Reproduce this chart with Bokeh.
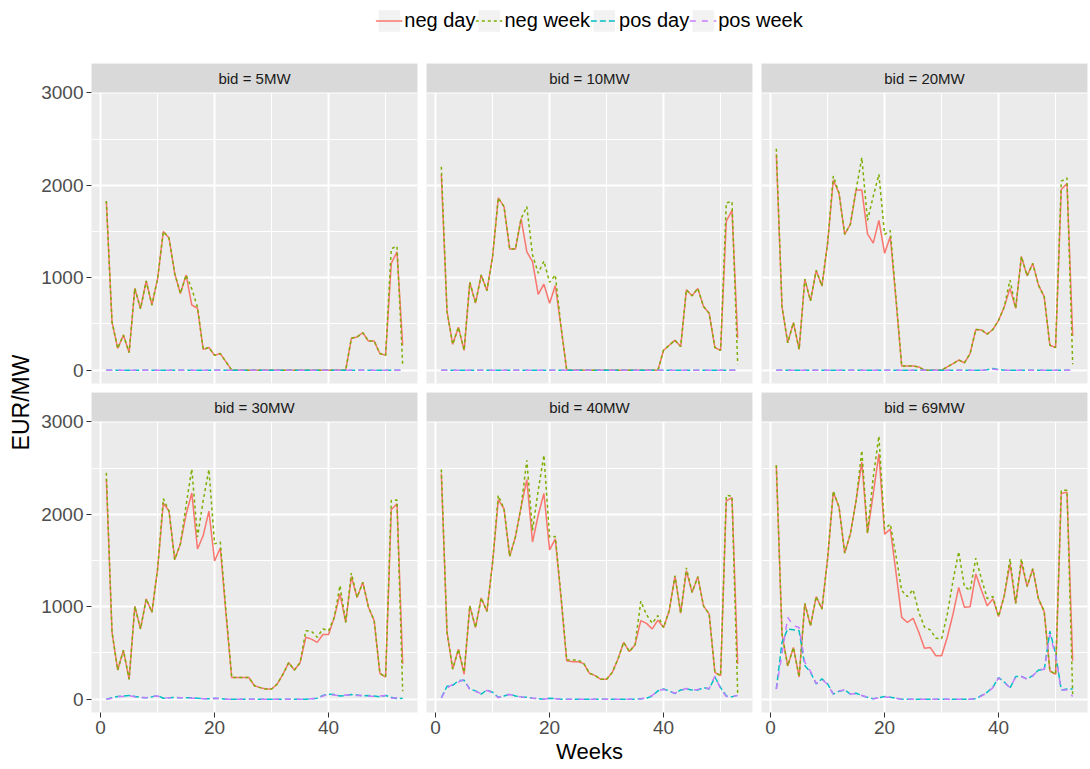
from math import pi
from bokeh.plotting import figure
from bokeh.layouts import column, row
from bokeh.models import (Range1d, FixedTicker, BoxAnnotation, Label, Legend,
                          LegendItem, ColumnDataSource)
from bokeh.embed import file_html
from bokeh.resources import INLINE

# ---------------- data ----------------
weeks = list(range(1, 54))
bids = ["5MW", "10MW", "20MW", "30MW", "40MW", "69MW"]
series_names = ["neg day", "neg week", "pos day", "pos week"]
x_ticks = [0, 20, 40]
x_minor = [10, 30, 50]
y_ticks = [0, 1000, 2000, 3000]
y_minor = [500, 1500, 2500]

neg_day_5 = [1830, 520, 235, 380, 190, 885, 665, 965, 705, 990,
             1500, 1430, 1045, 830, 1030, 705, 670, 225, 245, 160,
             180, 90, 0, 0, 0, 0, 0, 0, 0, 0,
             0, 0, 0, 0, 0, 0, 0, 0, 0, 0,
             0, 0, 0, 345, 360, 405, 315, 315, 180, 160,
             1155, 1280, 270]
neg_week_5 = [1830, 520, 235, 380, 190, 885, 665, 965, 705, 990,
              1500, 1430, 1045, 830, 1030, 880, 680, 225, 245, 160,
              180, 90, 0, 0, 0, 0, 0, 0, 0, 0,
              0, 0, 0, 0, 0, 0, 0, 0, 0, 0,
              0, 0, 0, 345, 360, 405, 315, 315, 180, 160,
              1315, 1340, 55]
pos_day_5 = [0, 0, 0, 0, 0, 0, 0, 0, 0, 0,
             0, 0, 0, 0, 0, 0, 0, 0, 0, 0,
             0, 0, 0, 0, 0, 0, 0, 0, 0, 0,
             0, 0, 0, 0, 0, 0, 0, 0, 0, 0,
             0, 0, 0, 0, 0, 0, 0, 0, 0, 0,
             0, 0, 0]
pos_week_5 = [0, 0, 0, 0, 0, 0, 0, 0, 0, 0,
              0, 0, 0, 0, 0, 0, 0, 0, 0, 0,
              0, 0, 0, 0, 0, 0, 0, 0, 0, 0,
              0, 0, 0, 0, 0, 0, 0, 0, 0, 0,
              0, 0, 0, 0, 0, 0, 0, 0, 0, 0,
              0, 0, 0]

neg_day_10 = [2115, 635, 280, 465, 215, 950, 725, 1030, 860, 1230,
              1865, 1770, 1310, 1310, 1640, 1280, 1175, 820, 930, 725,
              915, 470, 0, 0, 0, 0, 0, 0, 0, 0,
              0, 0, 0, 0, 0, 0, 0, 0, 0, 215,
              270, 325, 255, 870, 805, 885, 690, 615, 245, 215,
              1610, 1730, 345]
neg_week_10 = [2200, 635, 280, 465, 215, 950, 725, 1030, 860, 1230,
               1865, 1770, 1310, 1310, 1640, 1770, 1250, 1050, 1180, 950,
               1030, 470, 0, 0, 0, 0, 0, 0, 0, 0,
               0, 0, 0, 0, 0, 0, 0, 0, 0, 215,
               270, 325, 255, 870, 805, 885, 690, 615, 245, 215,
               1810, 1825, 65]
pos_day_10 = [0, 0, 0, 0, 0, 0, 0, 0, 0, 0,
              0, 0, 0, 0, 0, 0, 0, 0, 0, 0,
              0, 0, 0, 0, 0, 0, 0, 0, 0, 0,
              0, 0, 0, 0, 0, 0, 0, 0, 0, 0,
              0, 0, 0, 0, 0, 0, 0, 0, 0, 0,
              0, 0, 0]
pos_week_10 = [0, 0, 0, 0, 0, 0, 0, 0, 0, 0,
               0, 0, 0, 0, 0, 0, 0, 0, 0, 0,
               0, 0, 0, 0, 0, 0, 0, 0, 0, 0,
               0, 0, 0, 0, 0, 0, 0, 0, 0, 0,
               0, 0, 0, 0, 0, 0, 0, 0, 0, 0,
               0, 0, 0]

neg_day_20 = [2335, 685, 295, 515, 225, 985, 750, 1080, 910, 1375,
              2055, 1915, 1470, 1580, 1950, 1950, 1475, 1375, 1620, 1265,
              1445, 760, 45, 45, 45, 35, 0, 0, 0, 0,
              35, 70, 110, 80, 180, 440, 435, 390, 440, 540,
              685, 885, 670, 1230, 1020, 1155, 920, 795, 270, 245,
              1955, 2020, 370]
neg_week_20 = [2395, 685, 295, 515, 225, 985, 750, 1080, 910, 1375,
               2100, 1915, 1470, 1580, 1950, 2300, 1620, 1880, 2120, 1470,
               1510, 780, 45, 45, 45, 35, 0, 0, 0, 0,
               35, 70, 110, 80, 180, 440, 435, 390, 440, 540,
               685, 975, 670, 1230, 1020, 1155, 920, 795, 270, 245,
               2045, 2080, 65]
pos_day_20 = [0, 0, 0, 0, 0, 0, 0, 0, 0, 0,
              0, 0, 0, 0, 0, 0, 0, 0, 0, 0,
              0, 0, 0, 0, 0, 0, 0, 0, 0, 0,
              0, 0, 0, 0, 0, 0, 0, 5, 18, 8,
              0, 0, 0, 0, 0, 0, 0, 0, 0, 0,
              0, 0, 0]
pos_week_20 = [0, 0, 0, 0, 0, 0, 0, 0, 0, 0,
               0, 0, 0, 0, 0, 0, 0, 0, 0, 0,
               0, 0, 0, 0, 0, 0, 0, 0, 0, 0,
               0, 0, 0, 0, 0, 0, 0, 3, 10, 5,
               0, 0, 0, 0, 0, 0, 0, 0, 0, 0,
               0, 0, 0]

neg_day_30 = [2385, 725, 315, 530, 215, 1005, 760, 1085, 940, 1410,
              2120, 2035, 1510, 1680, 2000, 2230, 1625, 1770, 2035, 1495,
              1635, 920, 235, 235, 235, 235, 145, 125, 110, 110,
              165, 270, 395, 315, 395, 670, 650, 615, 700, 700,
              885, 1140, 830, 1325, 1100, 1265, 995, 850, 280, 240,
              2050, 2115, 380]
neg_week_30 = [2450, 725, 315, 530, 215, 1005, 760, 1085, 940, 1410,
               2170, 2035, 1510, 1680, 2100, 2490, 1755, 2150, 2485, 1680,
               1700, 950, 235, 235, 235, 235, 145, 125, 110, 110,
               165, 270, 395, 315, 395, 740, 735, 670, 760, 740,
               885, 1230, 830, 1365, 1100, 1265, 995, 850, 280, 240,
               2150, 2155, 85]
pos_day_30 = [0, 15, 30, 35, 40, 30, 20, 15, 25, 40,
              10, 15, 20, 15, 15, 15, 10, 5, 5, 10,
              5, 0, 0, 0, 0, 0, 0, 0, 0, 0,
              0, 0, 0, 0, 0, 0, 5, 10, 40, 55,
              50, 35, 40, 50, 45, 35, 40, 35, 25, 40,
              20, 5, 10]
pos_week_30 = [0, 10, 30, 30, 40, 25, 20, 15, 30, 35,
               10, 15, 15, 15, 15, 10, 10, 5, 5, 10,
               5, 0, 0, 0, 0, 0, 0, 0, 0, 0,
               0, 0, 0, 0, 0, 0, 5, 10, 35, 55,
               45, 35, 45, 45, 40, 40, 35, 30, 35, 40,
               10, 15, 0]

neg_day_40 = [2440, 725, 325, 540, 270, 1010, 775, 1095, 950, 1480,
              2160, 2060, 1545, 1755, 2080, 2375, 1700, 1990, 2225, 1615,
              1735, 1100, 415, 405, 405, 385, 280, 255, 215, 215,
              290, 435, 615, 515, 590, 850, 820, 760, 855, 775,
              960, 1335, 930, 1390, 1155, 1325, 1010, 920, 290, 255,
              2145, 2180, 380]
neg_week_40 = [2485, 725, 325, 540, 290, 1010, 775, 1095, 950, 1480,
               2205, 2060, 1545, 1755, 2080, 2585, 1825, 2260, 2640, 1755,
               1760, 1120, 425, 425, 425, 385, 280, 255, 215, 215,
               290, 435, 615, 515, 590, 1060, 915, 820, 905, 775,
               960, 1335, 930, 1420, 1155, 1325, 1010, 920, 290, 255,
               2205, 2195, 60]
pos_day_40 = [15, 140, 150, 200, 205, 110, 90, 55, 100, 75,
              20, 35, 55, 35, 25, 20, 10, 5, 0, 10,
              5, 0, 0, 0, 0, 0, 0, 0, 0, 0,
              0, 0, 0, 0, 0, 5, 10, 35, 90, 110,
              90, 60, 100, 110, 100, 100, 125, 110, 240, 125,
              35, 25, 45]
pos_week_40 = [15, 120, 160, 185, 215, 100, 85, 60, 95, 70,
               15, 40, 50, 35, 25, 15, 10, 5, 0, 10,
               5, 0, 0, 0, 0, 0, 0, 0, 0, 0,
               0, 0, 0, 0, 0, 5, 15, 40, 95, 105,
               85, 65, 95, 115, 95, 105, 120, 115, 250, 110,
               30, 30, 40]

neg_day_69 = [2530, 705, 360, 560, 240, 1035, 795, 1110, 975, 1520,
              2240, 2080, 1580, 1790, 2150, 2565, 1795, 2220, 2655, 1785,
              1840, 1370, 885, 830, 875, 725, 550, 560, 470, 470,
              670, 920, 1210, 995, 1000, 1355, 1175, 1010, 1085, 895,
              1120, 1465, 1035, 1480, 1220, 1410, 1085, 950, 305, 270,
              2225, 2240, 415]
neg_week_69 = [2530, 705, 360, 560, 240, 1035, 795, 1110, 975, 1520,
               2250, 2080, 1580, 1790, 2150, 2690, 1795, 2400, 2845, 1840,
               1895, 1550, 1175, 1110, 1185, 940, 780, 750, 660, 655,
               920, 1280, 1595, 1220, 1175, 1525, 1300, 1090, 1110, 895,
               1120, 1520, 1035, 1520, 1220, 1410, 1085, 950, 305, 270,
               2260, 2260, 55]
pos_day_69 = [110, 615, 760, 750, 740, 365, 290, 165, 220, 165,
              55, 85, 100, 55, 65, 40, 20, 5, 15, 30,
              20, 10, 0, 0, 0, 0, 0, 0, 0, 0,
              0, 0, 0, 0, 0, 5, 40, 75, 130, 235,
              185, 120, 245, 245, 220, 255, 315, 315, 735, 490,
              100, 110, 110]
pos_week_69 = [110, 490, 885, 795, 775, 400, 300, 170, 215, 160,
               55, 90, 100, 55, 60, 40, 20, 5, 15, 25,
               20, 10, 0, 0, 0, 0, 0, 0, 0, 0,
               0, 0, 0, 0, 0, 5, 35, 70, 125, 230,
               180, 125, 240, 245, 215, 250, 320, 320, 700, 470,
               100, 100, 30]

panel_data = [
    [neg_day_5, neg_week_5, pos_day_5, pos_week_5],
    [neg_day_10, neg_week_10, pos_day_10, pos_week_10],
    [neg_day_20, neg_week_20, pos_day_20, pos_week_20],
    [neg_day_30, neg_week_30, pos_day_30, pos_week_30],
    [neg_day_40, neg_week_40, pos_day_40, pos_week_40],
    [neg_day_69, neg_week_69, pos_day_69, pos_week_69],
]

# ---------------- style ----------------
COLORS = ["#F8766D", "#7CAE00", "#00BFC4", "#C77CFF"]
DASHES = ["solid", "3 3", "6 3", "6 6"]
LW = 1.5
FONT = "Liberation Sans"

FRAME_W = 326
PANEL_H = 291
STRIP_H = 29
FRAME_H = PANEL_H + STRIP_H
ROW_GAP = 9
X0, X1 = -1.6, 55.6
Y0, Y1 = -144, 3004
YTOP = Y1 + (Y1 - Y0) * STRIP_H / PANEL_H
LEGEND_H = 63
YLAB_W = 36
LEFT_BORDER = 55
TOTAL_W = YLAB_W + LEFT_BORDER + 3 * FRAME_W + 4 + 5 + 4 + 5 + 2


def make_panel(idx):
    r, c = divmod(idx, 3)
    p = figure(
        frame_width=FRAME_W, frame_height=FRAME_H,
        x_range=Range1d(X0, X1), y_range=Range1d(Y0, YTOP),
        x_axis_location="below" if r == 1 else None,
        y_axis_location="left" if c == 0 else None,
        output_backend="svg", toolbar_location=None,
        min_border_top=0,
        min_border_bottom=ROW_GAP if r == 0 else 0,
        min_border_left=LEFT_BORDER if c == 0 else 5,
        min_border_right=4 if c < 2 else 2,
        background_fill_color="#EBEBEB", border_fill_color="white",
        outline_line_color=None,
    )
    p.xgrid.ticker = FixedTicker(ticks=x_ticks, minor_ticks=x_minor)
    p.ygrid.ticker = FixedTicker(ticks=y_ticks, minor_ticks=y_minor)
    p.grid.grid_line_color = "white"
    p.grid.grid_line_width = 2
    p.grid.minor_grid_line_color = "white"
    p.grid.minor_grid_line_width = 1

    for ax in list(p.xaxis) + list(p.yaxis):
        ax.axis_line_color = None
        ax.major_tick_line_color = "#333333"
        ax.major_tick_in = 0
        ax.major_tick_out = 5
        ax.minor_tick_line_color = None
        ax.major_label_text_font = FONT
        ax.major_label_text_font_size = "19px"
        ax.major_label_text_color = "#4D4D4D"
        ax.major_label_standoff = 3
    for ax in p.xaxis:
        ax.ticker = FixedTicker(ticks=x_ticks)
    for ax in p.yaxis:
        ax.ticker = FixedTicker(ticks=y_ticks)

    if idx == 4:
        ax = p.xaxis[0]
        ax.axis_label = "Weeks"
        ax.axis_label_text_font = FONT
        ax.axis_label_text_font_size = "22px"
        ax.axis_label_text_font_style = "normal"
        ax.axis_label_text_color = "black"
        ax.axis_label_standoff = 2

    for vals, col, dash in zip(panel_data[idx], COLORS, DASHES):
        src = ColumnDataSource(dict(week=weeks, v=vals))
        p.line("week", "v", source=src, line_color=col, line_dash=dash,
               line_width=LW)

    # facet strip
    p.add_layout(BoxAnnotation(bottom=Y1, fill_color="#D9D9D9", fill_alpha=1,
                               line_color=None, level="annotation"))
    p.add_layout(Label(x=(X0 + X1) / 2, y=(Y1 + YTOP) / 2,
                       text="bid = " + bids[idx], text_align="center",
                       text_baseline="middle", text_font=FONT,
                       text_font_size="15px", text_color="#1A1A1A"))
    return p


panels = [make_panel(i) for i in range(6)]

# ---------------- legend ----------------
LEG_CENTER = YLAB_W + LEFT_BORDER + FRAME_W + 9 + FRAME_W / 2
leg_left = int(2 * LEG_CENTER - TOTAL_W)
lp = figure(width=TOTAL_W, height=LEGEND_H, x_range=Range1d(-2, -1),
            y_range=Range1d(0, 1), x_axis_location=None, y_axis_location=None,
            output_backend="svg", toolbar_location=None,
            min_border_left=leg_left, min_border_right=0, min_border_top=0,
            min_border_bottom=0, outline_line_color=None)
lp.grid.visible = False
items = []
for name, col, dash, vals in zip(series_names, COLORS, DASHES, panel_data[5]):
    src = ColumnDataSource(dict(week=weeks, v=vals))
    # drawn outside the visible range: only their legend glyphs show
    bg = lp.quad(left="week", right="week", top="v", bottom="v", source=src,
                 fill_color="#F2F2F2", line_color=None)
    ln = lp.line("week", "v", source=src, line_color=col, line_dash=dash,
                 line_width=LW)
    items.append(LegendItem(label=name, renderers=[bg, ln]))
leg = Legend(items=items, orientation="horizontal", location="top_center",
             glyph_width=27, glyph_height=27, label_standoff=2, spacing=0,
             padding=0, margin=7, border_line_color=None,
             background_fill_alpha=0, label_text_font=FONT,
             label_text_font_size="20px", label_text_color="black",
             label_height=27)
lp.add_layout(leg, "center")

# ---------------- y axis title ----------------
YLAB_H = FRAME_H + ROW_GAP + FRAME_H + 40
yp = figure(width=YLAB_W, height=YLAB_H, x_range=Range1d(0, 1),
            y_range=Range1d(0, 1), x_axis_location=None, y_axis_location=None,
            output_backend="svg", toolbar_location=None, min_border=0,
            outline_line_color=None)
yp.grid.visible = False
panel_top = STRIP_H
panel_bottom = FRAME_H + ROW_GAP + FRAME_H
center_from_top = (panel_top + panel_bottom) / 2
yp.add_layout(Label(x=20 / YLAB_W, y=1 - center_from_top / YLAB_H,
                    text="EUR/MW", angle=pi / 2, text_align="center",
                    text_baseline="middle", text_font=FONT,
                    text_font_size="23px", text_color="black"))

grid = column(row(*panels[:3]), row(*panels[3:]))
root = column(lp, row(yp, grid))

open("out.html", "w").write(file_html(root, INLINE, title="EUR/MW by bid"))
